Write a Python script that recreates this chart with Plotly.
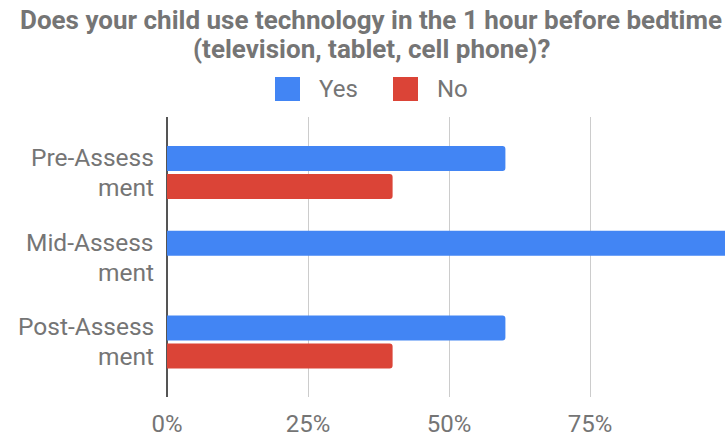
import plotly.graph_objects as go

categories = ["Pre-Assessment", "Mid-Assessment", "Post-Assessment"]
tick_labels = ["Pre-Assess<br>ment", "Mid-Assess<br>ment", "Post-Assess<br>ment"]
yes_values = [60, 100, 60]
no_values = [40, 0, 40]
x_ticks = [0, 25, 50, 75, 100]
x_tick_labels = ["0%", "25%", "50%", "75%", "100%"]
title_lines = ["Does your child use technology in the 1 hour before bedtime",
               "(television, tablet, cell phone)?"]

W, H = 725, 438
L, R, T, B = 167, 0, 117, 41
PW, PH = W - L - R, H - T - B

BLUE = "#4285F4"
RED = "#DB4437"
GRAY = "#757575"
FONT = "Roboto"


def px_x(p):
    return (p - L) / PW


def px_y(p):
    return (H - B - p) / PH


fig = go.Figure()
fig.add_trace(go.Bar(y=categories, x=yes_values, name="Yes", orientation="h",
                     marker=dict(color=BLUE, line=dict(width=0)), showlegend=False))
fig.add_trace(go.Bar(y=categories, x=no_values, name="No", orientation="h",
                     marker=dict(color=RED, line=dict(width=0)), showlegend=False))

shapes = []
annotations = []

# title (two tightly spaced lines)
for line, cy in zip(title_lines, [20, 49]):
    annotations.append(dict(text=line, xref="paper", yref="paper",
                            x=px_x(371), y=px_y(cy), xanchor="center", yanchor="middle",
                            showarrow=False, borderpad=0,
                            font=dict(family=FONT, size=26, color=GRAY, weight="bold")))

# legend drawn manually (large square swatches)
legend_items = [("Yes", BLUE, 275), ("No", RED, 393)]
for name, color, x0 in legend_items:
    shapes.append(dict(type="rect", xref="paper", yref="paper",
                       x0=px_x(x0), x1=px_x(x0 + 25), y0=px_y(101), y1=px_y(77),
                       fillcolor=color, line=dict(width=0)))
    annotations.append(dict(text=name, xref="paper", yref="paper",
                            x=px_x(x0 + 42), y=px_y(89), xanchor="left", yanchor="middle",
                            showarrow=False, font=dict(family=FONT, size=24, color=GRAY)))

# category labels (two lines each, tight line spacing)
for cat, lab in zip(categories, tick_labels):
    first, second = lab.split("<br>")
    for part, shift in [(first, 15), (second, -15)]:
        annotations.append(dict(text=part, xref="paper", yref="y",
                                x=px_x(155), y=cat, yshift=shift, borderpad=0,
                                xanchor="right", yanchor="middle", showarrow=False,
                                font=dict(family=FONT, size=24.5, color=GRAY)))

fig.update_layout(
    width=W, height=H,
    margin=dict(l=L, r=R, t=T, b=B, pad=0),
    paper_bgcolor="white", plot_bgcolor="white",
    barmode="group", bargap=0.34, bargroupgap=0.107, barcornerradius=3,
    shapes=shapes,
    annotations=annotations,
    showlegend=False,
)

fig.update_xaxes(range=[0, 100 * (W - L) / (731 - L)], tickvals=x_ticks, ticktext=x_tick_labels,
                 showgrid=True, gridcolor="#cccccc", gridwidth=1,
                 zeroline=True, zerolinecolor="#555555", zerolinewidth=2,
                 showline=False, ticks="", ticklabelstandoff=10,
                 tickfont=dict(family=FONT, size=24, color=GRAY))
fig.update_yaxes(type="category", categoryorder="array", categoryarray=categories,
                 range=[2.65, -0.655], showgrid=False, zeroline=False, showline=False, ticks="",
                 showticklabels=False)

fig.write_html("out.html")
